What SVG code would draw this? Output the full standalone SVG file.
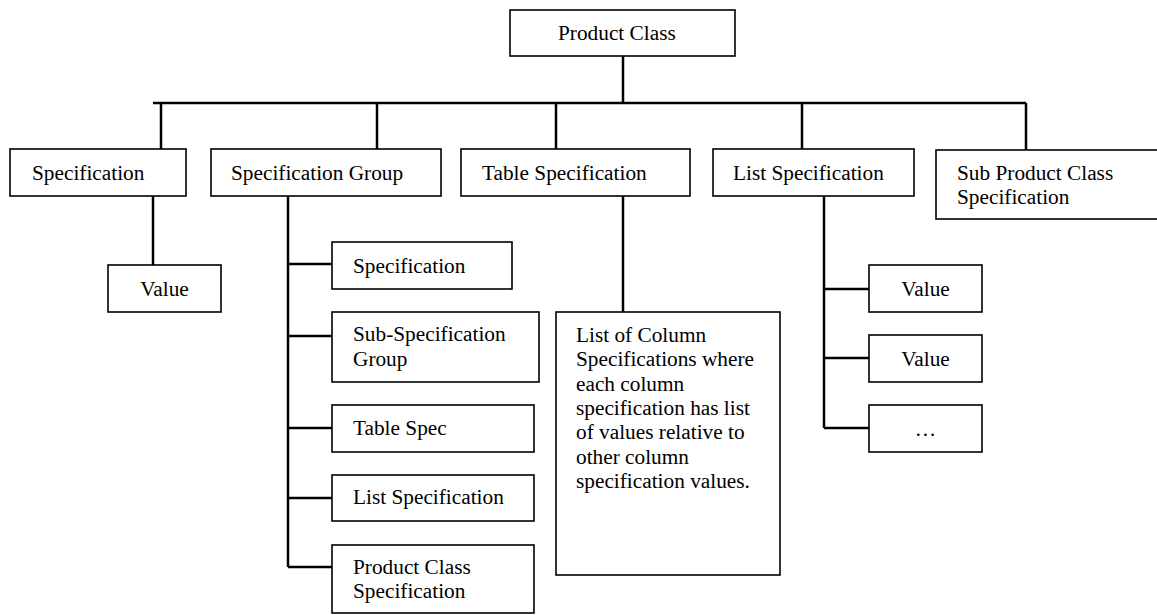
<svg xmlns="http://www.w3.org/2000/svg" width="1157" height="615" viewBox="0 0 1157 615">
<style>
.box{fill:#fff;stroke:#000;stroke-width:1.6}
.con{fill:none;stroke:#000;stroke-width:2.5}
text{font-family:"Liberation Serif","Times New Roman",serif;font-size:21.3px;fill:#000}
.c{text-anchor:middle}
</style>
<rect width="1157" height="615" fill="#fff"/>
<g id="connectors">
<path class="con" d="M623 56V103M153 103H1026M161 103V149M377 103V149M556 103V149M802 103V149M1026 103V150"/>
<path class="con" d="M153 196V265"/>
<path class="con" d="M288 196V567M288 264H332M288 336H332M288 428H332M288 498H332M288 567H332"/>
<path class="con" d="M623 196V312"/>
<path class="con" d="M824 196V428M824 289H869M824 358H869M824 428H869"/>
</g>
<g id="product-class"><rect class="box" x="510" y="10" width="225" height="46"/><text x="558" y="40">Product Class</text></g>
<g id="specification"><rect class="box" x="10" y="149" width="176" height="47"/><text x="32" y="180">Specification</text></g>
<g id="specification-group"><rect class="box" x="211" y="149" width="230" height="47"/><text x="231" y="180">Specification Group</text></g>
<g id="table-specification"><rect class="box" x="461" y="149" width="229" height="47"/><text x="482" y="180">Table Specification</text></g>
<g id="list-specification"><rect class="box" x="713" y="149" width="201" height="47"/><text x="733" y="180">List Specification</text></g>
<g id="sub-product-class-specification"><rect class="box" x="936" y="150" width="240" height="69"/><text x="957" y="180">Sub Product Class</text><text x="957" y="204">Specification</text></g>
<g id="value-left"><rect class="box" x="108" y="265" width="113" height="47"/><text class="c" x="164.5" y="296">Value</text></g>
<g id="sg-specification"><rect class="box" x="332" y="242" width="180" height="47"/><text x="353" y="273">Specification</text></g>
<g id="sg-sub-specification-group"><rect class="box" x="332" y="312" width="207" height="70"/><text x="353" y="341">Sub-Specification</text><text x="353" y="366">Group</text></g>
<g id="sg-table-spec"><rect class="box" x="332" y="405" width="202" height="47"/><text x="353" y="435">Table Spec</text></g>
<g id="sg-list-specification"><rect class="box" x="332" y="475" width="202" height="46"/><text x="353" y="504">List Specification</text></g>
<g id="sg-product-class-specification"><rect class="box" x="332" y="545" width="202" height="68"/><text x="353" y="574">Product Class</text><text x="353" y="598">Specification</text></g>
<g id="column-specifications"><rect class="box" x="556" y="312" width="224" height="263"/>
<text x="576" y="342">List of Column</text>
<text x="576" y="366">Specifications where</text>
<text x="576" y="391">each column</text>
<text x="576" y="415">specification has list</text>
<text x="576" y="439">of values relative to</text>
<text x="576" y="464">other column</text>
<text x="576" y="488">specification values.</text>
</g>
<g id="value-1"><rect class="box" x="869" y="265" width="113" height="47"/><text class="c" x="925.5" y="296">Value</text></g>
<g id="value-2"><rect class="box" x="869" y="335" width="113" height="47"/><text class="c" x="925.5" y="366">Value</text></g>
<g id="value-more"><rect class="box" x="869" y="405" width="113" height="47"/><text class="c" x="925.5" y="436">…</text></g>
</svg>
